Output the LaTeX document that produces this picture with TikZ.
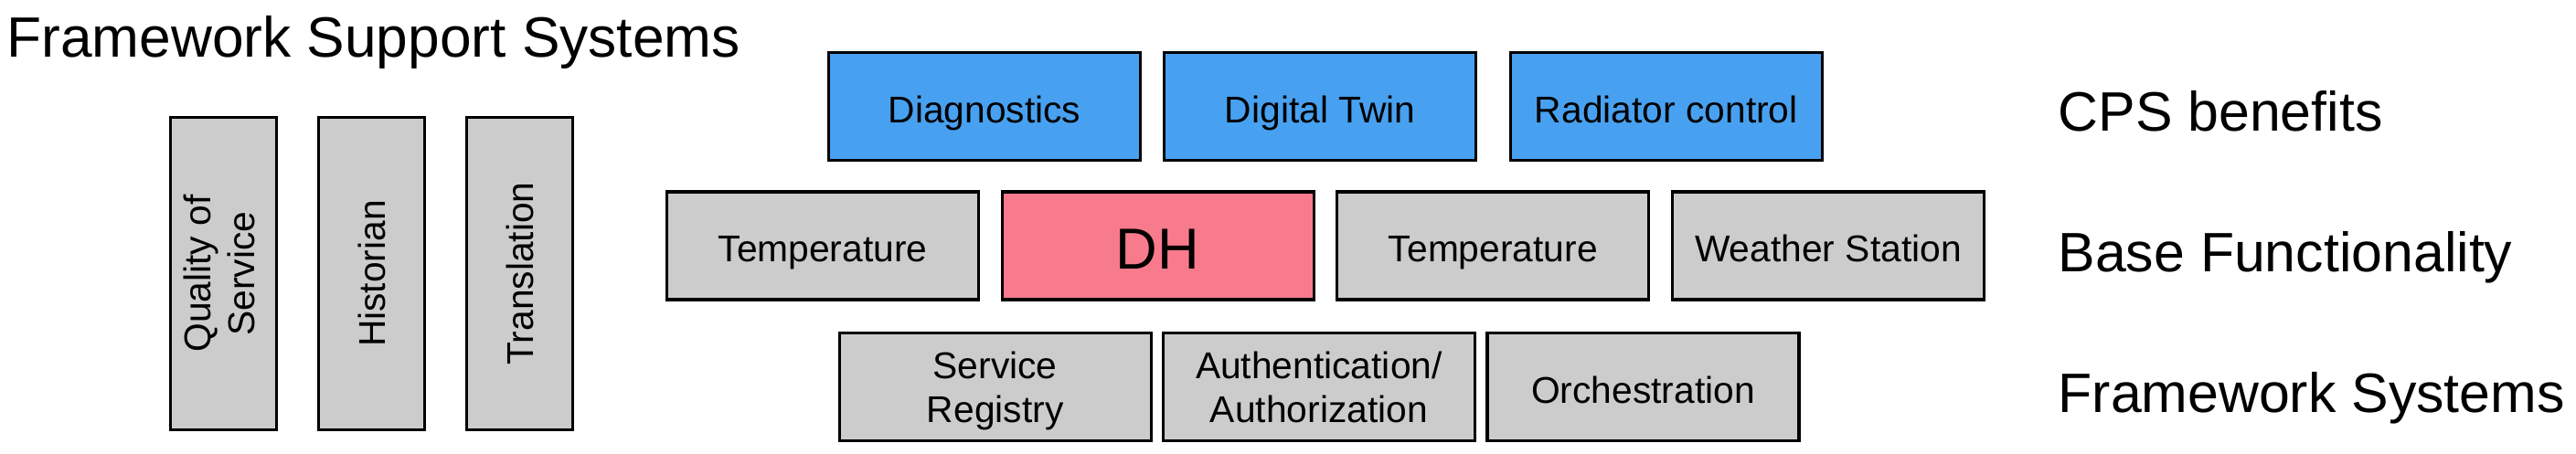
\documentclass[tikz,border=0pt]{standalone}
\usepackage{fontspec}
\setmainfont{Liberation Sans}
\usetikzlibrary{positioning}
\definecolor{cpsblue}{RGB}{72,161,240}
\definecolor{dhpink}{RGB}{247,123,140}
\definecolor{boxgray}{RGB}{204,204,204}

\begin{document}
\begin{tikzpicture}[line width=0.9pt,
    box node/.style={rectangle,draw,fill=boxgray,minimum width=3.41cm,minimum height=1.18cm,inner sep=0pt,align=center,text height=10pt,text depth=0pt,font=\fontsize{11.6}{13.7}\selectfont},
    two line/.style={text height=,text depth=-1.7pt},
    cps node/.style={box node,fill=cpsblue},
    dh node/.style={box node,fill=dhpink,text height=14.6pt,font=\fontsize{18}{21}\selectfont},
    side node/.style={box node,minimum width=1.16cm,minimum height=3.42cm,text height=,text depth=0pt},
    layer label/.style={anchor=base west,inner sep=0pt,font=\fontsize{17.3}{20}\selectfont}]
    \useasboundingbox (0,0) rectangle (28.18,-4.96);

    % support systems
    \node[layer label,font=\fontsize{17.7}{20}\selectfont] (fss) at (0.06,-0.62) {Framework Support Systems};
    \node[side node] (qos) at (2.445,-2.995) {\rotatebox{90}{\begin{tabular}{@{}c@{}}Quality of\\Service\end{tabular}}};
    \node[side node] (hist) [right=0.43cm of qos] {\rotatebox{90}{Historian}};
    \node[side node] (trans) [right=0.43cm of hist] {\rotatebox{90}{Translation}};

    % CPS benefits
    \node[cps node] (diag) at (10.77,-1.165) {Diagnostics};
    \node[cps node] (twin) [right=0.23cm of diag] {Digital Twin};
    \node[cps node] (rad) [right=0.345cm of twin] {Radiator control};

    % base functionality
    \node[box node] (temp1) at (9.00,-2.69) {Temperature};
    \node[dh node] (dh) [right=0.225cm of temp1] {DH};
    \node[box node] (temp2) [right=0.225cm of dh] {Temperature};
    \node[box node] (ws) [right=0.225cm of temp2] {Weather Station};

    % framework systems
    \node[box node,two line] (sr) at (10.887,-4.235) {Service\\Registry};
    \node[box node,two line] (auth) [right=0.10cm of sr] {Authentication/\\Authorization};
    \node[box node] (orch) [right=0.105cm of auth] {Orchestration};

    \node[layer label] (cpsl) at (22.5,-1.43) {CPS benefits};
    \node[layer label] (basel) at (22.5,-2.97) {Base Functionality};
    \node[layer label] (fwl) at (22.5,-4.51) {Framework Systems};
\end{tikzpicture}
\end{document}
